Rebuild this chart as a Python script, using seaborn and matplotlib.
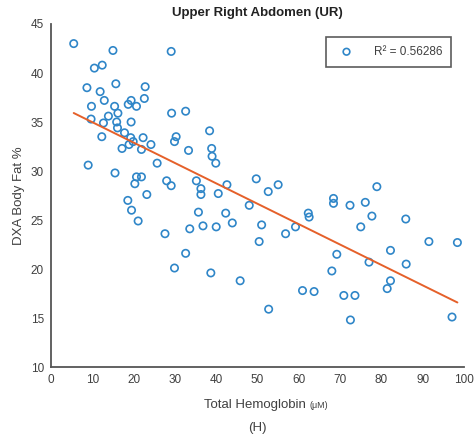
import matplotlib
matplotlib.use("Agg")
import matplotlib.pyplot as plt
import seaborn as sns
import numpy as np

hemoglobin = [5.5, 15.0, 29.1, 10.5, 12.4, 8.7, 15.7, 11.9, 12.9, 22.8,
              22.6, 9.8, 19.4, 18.7, 20.7, 15.4, 16.2, 9.7, 13.9, 15.9,
              12.7, 16.1, 19.4, 17.8, 12.3, 19.3, 19.9, 18.9, 22.3, 21.9,
              24.2, 17.2, 25.7, 9.0, 15.5, 20.7, 21.9, 20.3, 23.2, 18.6,
              28.0, 29.1, 29.2, 32.6, 30.3, 29.9, 33.3, 38.4, 38.9, 39.0,
              39.9, 35.2, 36.3, 36.3, 40.5, 42.6, 49.7, 19.5, 21.1, 27.6,
              29.9, 32.6, 33.6, 36.8, 35.7, 38.7, 40.0, 42.3, 43.9, 45.8,
              48.0, 51.0, 50.4, 52.6, 55.0, 56.8, 59.2, 62.3, 62.5, 68.4,
              68.4, 72.4, 76.1, 78.9, 77.7, 75.0, 85.9, 91.5, 98.4, 69.2,
              68.0, 77.0, 82.2, 86.0, 82.2, 81.4, 60.9, 63.7, 70.9, 73.6,
              52.7, 72.5, 97.1]
body_fat = [43.0, 42.3, 42.2, 40.5, 40.8, 38.5, 38.9, 38.1, 37.2, 38.6,
            37.4, 36.6, 37.2, 36.8, 36.6, 36.6, 35.9, 35.3, 35.6, 35.0,
            34.9, 34.4, 35.0, 33.9, 33.5, 33.4, 33.0, 32.7, 33.4, 32.2,
            32.7, 32.3, 30.8, 30.6, 29.8, 29.4, 29.4, 28.7, 27.6, 27.0,
            29.0, 28.5, 35.9, 36.1, 33.5, 33.0, 32.1, 34.1, 32.3, 31.5,
            30.8, 29.0, 28.2, 27.6, 27.7, 28.6, 29.2, 26.0, 24.9, 23.6,
            20.1, 21.6, 24.1, 24.4, 25.8, 19.6, 24.3, 25.7, 24.7, 18.8,
            26.5, 24.5, 22.8, 27.9, 28.6, 23.6, 24.3, 25.7, 25.3, 27.2,
            26.7, 26.5, 26.8, 28.4, 25.4, 24.3, 25.1, 22.8, 22.7, 21.5,
            19.8, 20.7, 21.9, 20.5, 18.8, 18.0, 17.8, 17.7, 17.3, 17.3,
            15.9, 14.8, 15.1]

title = "Upper Right Abdomen (UR)"
legend_label = "R\u00b2 = 0.56286"
x_ticks = list(range(0, 101, 10))
y_ticks = list(range(10, 46, 5))

sns.set_style("white")
plt.rcParams['font.family'] = ['Liberation Sans', 'DejaVu Sans']

fig = plt.figure(figsize=(4.74, 4.40), dpi=100)
ax = fig.add_axes([51/474, 1-367/440, (464-51)/474, (367-24)/440])

point_color = "#2f86c8"
line_color = "#e5602a"
text_color = "#404040"

sns.regplot(x=np.array(hemoglobin), y=np.array(body_fat), ax=ax, ci=None,
            truncate=True, label=legend_label,
            scatter_kws=dict(color=point_color, facecolors="none", s=28,
                             linewidths=1.2, alpha=1),
            line_kws=dict(color=line_color, linewidth=1.4))

ax.set_xlim(0, 100)
ax.set_ylim(10, 45)
ax.set_xticks(x_ticks)
ax.set_yticks(y_ticks)
ax.tick_params(direction="in", length=4, width=1, colors="#555555",
               labelcolor=text_color, labelsize=8.5, pad=5)
for side in ["top", "right"]:
    ax.spines[side].set_visible(False)
for side in ["left", "bottom"]:
    ax.spines[side].set_color("#555555")
    ax.spines[side].set_linewidth(1.3)

ax.set_title(title, fontsize=9.5, fontweight="bold", color="#222222", pad=6)
ax.set_ylabel("DXA Body Fat %", fontsize=9.5, color=text_color, labelpad=4)
ax.set_xlabel("")

fig.text(306/474, 1-405/440, "Total Hemoglobin", ha="right", va="center",
         fontsize=9.5, color=text_color)
fig.text(309/474, 1-405/440, "(\u03bcM)", ha="left", va="center",
         fontsize=6.5, color=text_color)
fig.text(257/474, 1-428/440, "(H)", ha="center", va="center",
         fontsize=9.5, color=text_color)

leg = ax.legend(loc="upper right", frameon=True, fancybox=False,
                fontsize=8.5, borderaxespad=1.1, handletextpad=1.3,
                borderpad=0.75, markerscale=0.9)
leg.get_frame().set_edgecolor("#333333")
leg.get_frame().set_linewidth(1.2)
for t in leg.get_texts():
    t.set_color(text_color)

fig.savefig("out.png", dpi=100, facecolor="white")
